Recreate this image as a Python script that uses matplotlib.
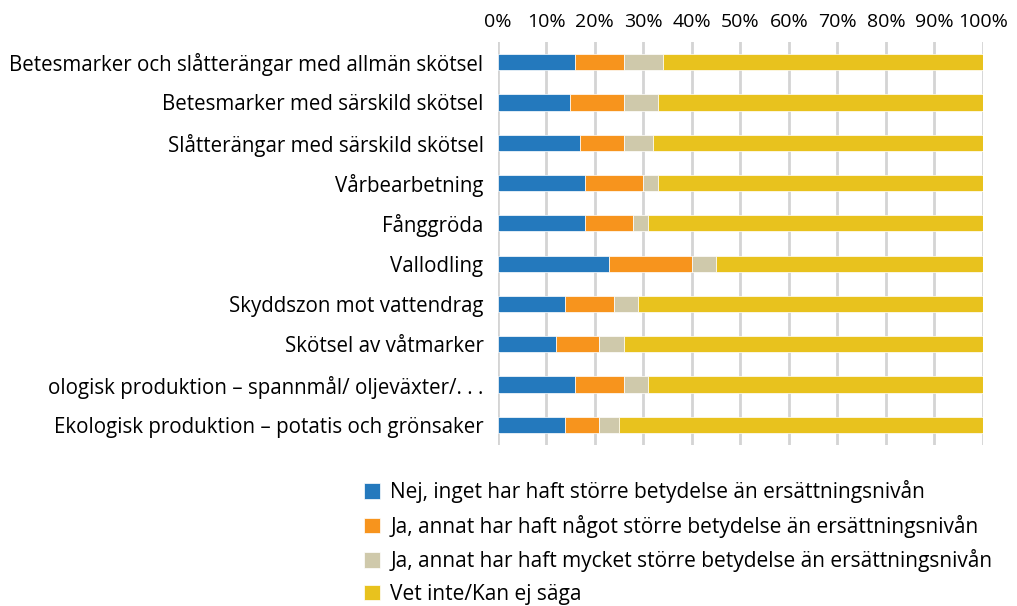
import matplotlib
matplotlib.use("Agg")
import matplotlib.pyplot as plt
from matplotlib.ticker import FuncFormatter

categories = [
    "Betesmarker och slåtterängar med allmän skötsel",
    "Betesmarker med särskild skötsel",
    "Slåtterängar med särskild skötsel",
    "Vårbearbetning",
    "Fånggröda",
    "Vallodling",
    "Skyddszon mot vattendrag",
    "Skötsel av våtmarker",
    "ologisk produktion – spannmål/ oljeväxter/. . .",
    "Ekologisk produktion – potatis och grönsaker",
]
nej = [16, 15, 17, 18, 18, 23, 14, 12, 16, 14]
ja_nagot = [10, 11, 9, 12, 10, 17, 10, 9, 10, 7]
ja_mycket = [8, 7, 6, 3, 3, 5, 5, 5, 5, 4]
vet_inte = [66, 67, 68, 67, 69, 55, 71, 74, 69, 75]

series_names = [
    "Nej, inget har haft större betydelse än ersättningsnivån",
    "Ja, annat har haft något större betydelse än ersättningsnivån",
    "Ja, annat har haft mycket större betydelse än ersättningsnivån",
    "Vet inte/Kan ej säga",
]
colors = ["#2479bd", "#f7941d", "#cfc9ab", "#e8c21e"]

plt.rcParams['font.family'] = ['Open Sans', 'DejaVu Sans']

fig = plt.figure(figsize=(10.17, 6.06), dpi=100)
ax = fig.add_axes([497.5 / 1017, 1 - 445 / 606, (983 - 497.5) / 1017, (445 - 42) / 606])

y = list(range(len(categories)))
left = [0] * len(categories)
for vals, name, c in zip([nej, ja_nagot, ja_mycket, vet_inte], series_names, colors):
    ax.barh(y, vals, left=left, height=0.4, color=c, label=name, zorder=3,
            edgecolor="white", linewidth=0.5)
    left = [a + b for a, b in zip(left, vals)]

ax.set_xlim(0, 100)
ax.set_ylim(len(categories) - 0.5, -0.5)
ax.set_yticks(y)
ax.set_yticklabels(categories, fontsize=14.8)
ax.set_xticks(range(0, 101, 10))
ax.xaxis.set_major_formatter(FuncFormatter(lambda v, p: f"{int(v)}%"))
ax.xaxis.tick_top()
ax.tick_params(axis='x', labelsize=14, length=0, pad=8)
ax.tick_params(axis='y', length=0, pad=10)
ax.grid(axis='x', color="#d4d4d4", linewidth=2, zorder=0)
for s in ax.spines.values():
    s.set_visible(False)

leg = fig.legend(loc="upper left", bbox_to_anchor=(356 / 1017, 1 - 472 / 606),
                 frameon=False, fontsize=15, handlelength=0.75, handleheight=0.75,
                 handletextpad=0.5, labelspacing=0.55, borderaxespad=0)

fig.savefig("out.png", dpi=100)
